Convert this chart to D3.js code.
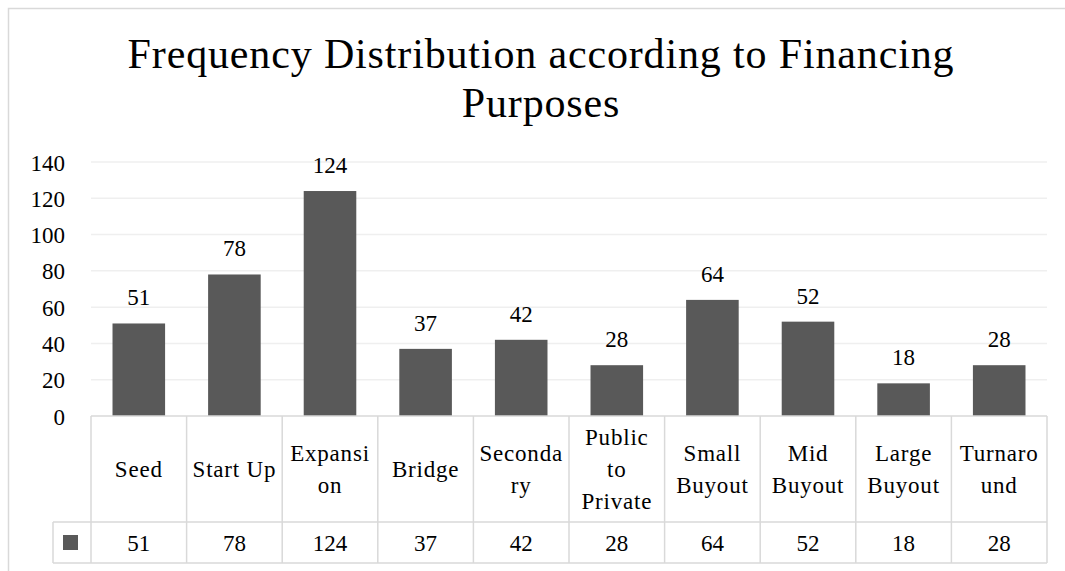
<!DOCTYPE html>
<html>
<head>
<meta charset="utf-8">
<script src="https://cdn.jsdelivr.net/npm/d3@7"></script>
<style>
  html, body { margin: 0; padding: 0; background: #fff; overflow: hidden; }
  svg { display: block; }
</style>
</head>
<body>
<svg id="chart" width="1065" height="571" font-family="Liberation Serif"></svg>
<script>
const categories = ["Seed", "Start Up", "Expansion", "Bridge", "Secondary", "Public to Private", "Small Buyout", "Mid Buyout", "Large Buyout", "Turnaround"];
const categoryLines = [["Seed"], ["Start Up"], ["Expansi", "on"], ["Bridge"], ["Seconda", "ry"], ["Public", "to", "Private"], ["Small", "Buyout"], ["Mid", "Buyout"], ["Large", "Buyout"], ["Turnaro", "und"]];
const values = [51, 78, 124, 37, 42, 28, 64, 52, 18, 28];
const yTicks = [0, 20, 40, 60, 80, 100, 120, 140];
const titleLines = ["Frequency Distribution according to Financing", "Purposes"];

const FONT = "Liberation Serif";
const svg = d3.select("#chart");
const barColor = "#595959";
const gridColor = "#efefef";
const tableColor = "#d9d9d9";
const labelSize = 23;

// chart border
svg.append("rect").attr("x", 8.5).attr("y", 8.5).attr("width", 1080).attr("height", 600)
  .attr("fill", "#fff").attr("stroke", tableColor).attr("stroke-width", 1.5);

const plotLeft = 91, plotRight = 1047, plotTop = 162, plotBottom = 416;
const x = d3.scaleBand().domain(categories).range([plotLeft, plotRight]).paddingInner(0.45).paddingOuter(0.225);
const xCell = d3.scaleBand().domain(categories).range([plotLeft, plotRight]);
const y = d3.scaleLinear().domain([0, 140]).range([plotBottom, plotTop]);

// title
svg.append("g").selectAll("text").data(titleLines).join("text")
  .attr("font-family", FONT)
  .attr("x", 541).attr("y", (d, i) => 68 + i * 49)
  .attr("text-anchor", "middle").attr("font-size", 42).attr("letter-spacing", 0.85).text(d => d);

// gridlines
svg.append("g").selectAll("line").data(yTicks.filter(t => t > 0)).join("line")
  .attr("x1", plotLeft).attr("x2", plotRight)
  .attr("y1", d => y(d)).attr("y2", d => y(d))
  .attr("stroke", gridColor).attr("stroke-width", 1.5);

// y axis
const yAxis = d3.axisLeft(y).tickValues(yTicks).tickSize(0).tickPadding(0);
const gy = svg.append("g").attr("transform", `translate(65,0)`).call(yAxis)
  .attr("font-family", FONT).attr("font-size", labelSize);
gy.select(".domain").remove();
gy.selectAll("text").attr("font-family", FONT).attr("font-size", labelSize).attr("dy", "0.35em").attr("fill", "#000");

// bars
svg.append("g").selectAll("rect").data(values).join("rect")
  .attr("x", (d, i) => x(categories[i]))
  .attr("width", x.bandwidth())
  .attr("y", d => y(d))
  .attr("height", d => y(0) - y(d))
  .attr("fill", barColor);

// data labels
svg.append("g").selectAll("text").data(values).join("text")
  .attr("font-family", FONT)
  .attr("x", (d, i) => x(categories[i]) + x.bandwidth() / 2)
  .attr("y", d => y(d) - 18)
  .attr("text-anchor", "middle").attr("font-size", labelSize).text(d => d);

// data table
const headerTop = plotBottom, headerBottom = 522, valueBottom = 563, legendLeft = 53;
const tg = svg.append("g").attr("stroke", tableColor).attr("stroke-width", 1.5);
tg.append("line").attr("x1", plotLeft).attr("x2", plotRight).attr("y1", headerTop).attr("y2", headerTop);
tg.append("line").attr("x1", legendLeft).attr("x2", plotRight).attr("y1", headerBottom).attr("y2", headerBottom);
tg.append("line").attr("x1", legendLeft).attr("x2", plotRight).attr("y1", valueBottom).attr("y2", valueBottom);
tg.append("line").attr("x1", legendLeft).attr("x2", legendLeft).attr("y1", headerBottom).attr("y2", valueBottom);
const bounds = categories.map(c => xCell(c)).concat([plotRight]);
tg.selectAll("line.v").data(bounds).join("line").attr("class", "v")
  .attr("x1", d => d).attr("x2", d => d).attr("y1", headerTop).attr("y2", valueBottom);

// category labels
const lineH = 32;
const headerMid = (headerTop + headerBottom) / 2;
const cl = svg.append("g").selectAll("text").data(categoryLines).join("text")
  .attr("font-family", FONT)
  .attr("text-anchor", "middle").attr("font-size", labelSize).attr("letter-spacing", 0.8)
  .attr("x", (d, i) => xCell(categories[i]) + xCell.bandwidth() / 2);
cl.each(function(lines) {
  const t = d3.select(this);
  const startY = headerMid + 8 - (lines.length - 1) * lineH / 2;
  lines.forEach((ln, j) => {
    t.append("tspan").attr("x", t.attr("x")).attr("y", startY + j * lineH).text(ln);
  });
});

// values row
svg.append("g").selectAll("text").data(values).join("text")
  .attr("font-family", FONT)
  .attr("x", (d, i) => xCell(categories[i]) + xCell.bandwidth() / 2)
  .attr("y", (headerBottom + valueBottom) / 2 + 8)
  .attr("text-anchor", "middle").attr("font-size", labelSize).text(d => d);

// legend key
svg.append("rect").attr("x", 63).attr("y", 535).attr("width", 15).attr("height", 15).attr("fill", barColor);
</script>
</body>
</html>
